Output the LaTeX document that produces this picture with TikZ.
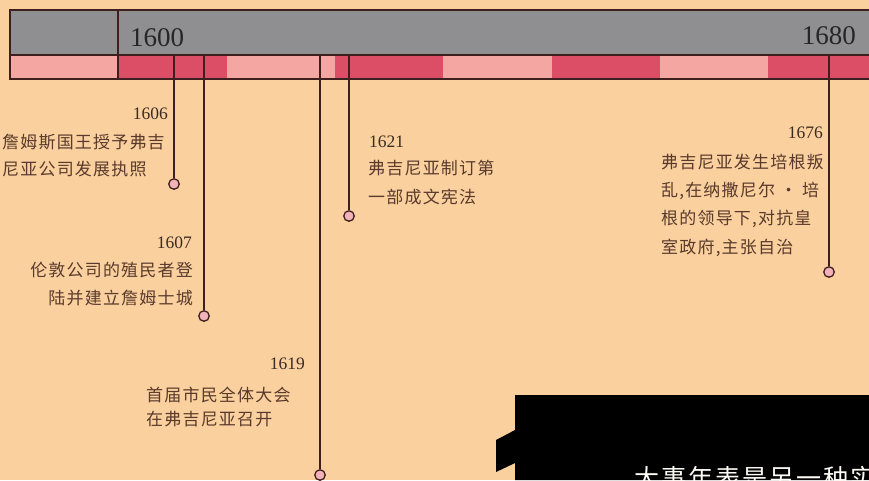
\documentclass[tikz,border=0pt]{standalone}
\usepackage{fontspec}
\setmainfont{Liberation Serif}
\newfontfamily\cjk[LetterSpace=7]{Noto Sans CJK SC}
\newfontfamily\cjkbig[LetterSpace=8]{Noto Sans CJK SC}
\definecolor{bg}{HTML}{F9D09E}
\definecolor{graybar}{HTML}{8F8E90}
\definecolor{lightp}{HTML}{F4A6A2}
\definecolor{darkp}{HTML}{DC4E65}
\definecolor{linec}{HTML}{3E1E1E}
\definecolor{dotfill}{HTML}{F2B3B8}
\definecolor{txt}{HTML}{5A3A2C}
\definecolor{yrc}{HTML}{3B2A22}
\begin{document}
\begin{tikzpicture}[x=1pt,y=-1pt,
  barline/.style={draw=linec,line width=1.2pt},
  stem/.style={draw=linec,line width=1.6pt},
  dot/.style={circle,draw=linec,line width=1.3pt,fill=dotfill,minimum size=10.5pt,inner sep=0pt},
  cn/.style={font=\cjk\fontsize{17}{18}\selectfont,text=txt,inner sep=0pt},
  yr/.style={font=\fontsize{17.5}{20}\selectfont,text=yrc,inner sep=0pt},
  bigyr/.style={font=\fontsize{27}{30}\selectfont,text=black!85,inner sep=0pt},
  boxtxt/.style={font=\cjkbig\fontsize{25}{28}\selectfont,text=white!90!bg,inner sep=0pt}]
\useasboundingbox (0,0) rectangle (869,480);
\clip (0,0) rectangle (869,480);
\fill[bg] (0,0) rectangle (869,480);
% bar
\fill[graybar] (10,10) rectangle (869,55);
\fill[lightp] (10,55) rectangle (118,79);
\fill[darkp] (118,55) rectangle (227,79);
\fill[lightp] (227,55) rectangle (335,79);
\fill[darkp] (335,55) rectangle (443,79);
\fill[lightp] (443,55) rectangle (552,79);
\fill[darkp] (552,55) rectangle (660,79);
\fill[lightp] (660,55) rectangle (768,79);
\fill[darkp] (768,55) rectangle (869,79);
\draw[barline] (869,10) -- (10,10) -- (10,79) -- (869,79);
\draw[barline] (10,55) -- (869,55);
\draw[barline] (118,10) -- (118,79);
\node[bigyr,anchor=base west] (y1600) at (130,46.5) {1600};
\node[bigyr,anchor=base east] (y1680) at (856,44) {1680};
% stems
\coordinate (t1606) at (174,55);
\coordinate (t1607) at (204,55);
\coordinate (t1619) at (320,55);
\coordinate (t1621) at (349,55);
\coordinate (t1676) at (829,55);
\node[dot] (c1606) at (174,184) {};
\node[dot] (c1607) at (204,316) {};
\node[dot] (c1619) at (320,475) {};
\node[dot] (c1621) at (349,216) {};
\node[dot] (c1676) at (829,272) {};
\draw[stem] (t1606) -- (c1606);
\draw[stem] (t1607) -- (c1607);
\draw[stem] (t1619) -- (c1619);
\draw[stem] (t1621) -- (c1621);
\draw[stem] (t1676) -- (c1676);
% 1606
\node[yr,anchor=base east] (a0) at (168,119) {1606};
\node[cn,anchor=base west] (a1) at (2,148) {詹姆斯国王授予弗吉};
\node[cn,anchor=base west] (a2) at (2,175) {尼亚公司发展执照};
% 1607
\node[yr,anchor=base east] (b0) at (192,248) {1607};
\node[cn,anchor=base east] (b1) at (193,276) {伦敦公司的殖民者登};
\node[cn,anchor=base east] (b2) at (193,304) {陆并建立詹姆士城};
% 1619
\node[yr,anchor=base east] (d0) at (305,369) {1619};
\node[cn,anchor=base west] (d1) at (146,401) {首届市民全体大会};
\node[cn,anchor=base west] (d2) at (146,425) {在弗吉尼亚召开};
% 1621
\node[yr,anchor=base west] (e0) at (369,147) {1621};
\node[cn,anchor=base west] (e1) at (368,174) {弗吉尼亚制订第};
\node[cn,anchor=base west] (e2) at (368,203) {一部成文宪法};
% 1676
\node[yr,anchor=base east] (f0) at (823,138) {1676};
\node[cn,anchor=base west] (f1) at (661,168) {弗吉尼亚发生培根叛};
\node[cn,anchor=base west] (f2) at (661,196) {乱,在纳撒尼尔 · 培};
\node[cn,anchor=base west] (f3) at (661,224) {根的领导下,对抗皇};
\node[cn,anchor=base west] (f4) at (661,253) {室政府,主张自治};
% black panel
\fill[black] (515,395) -- (869,395) -- (869,480) -- (515,480) -- (515,463) -- (496,472) -- (496,440) -- (515,430) -- cycle;
\node[boxtxt,anchor=base west] (g1) at (634,487) {大事年表是另一种实};
\end{tikzpicture}
\end{document}
